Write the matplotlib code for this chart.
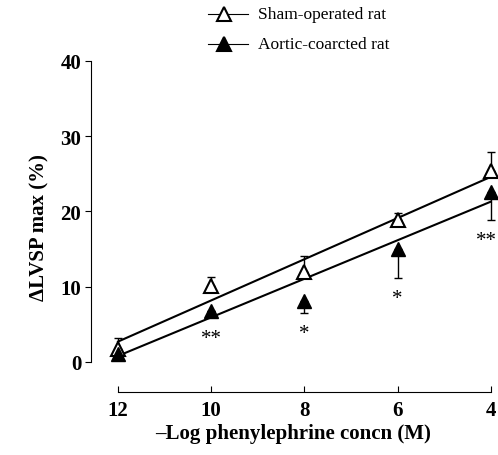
import numpy as np
import matplotlib.pyplot as plt
from matplotlib.lines import Line2D

plt.rcParams['font.family'] = ['Liberation Serif', 'DejaVu Serif']

conc = [12, 10, 8, 6, 4]
sham = [1.7, 10.1, 12.0, 18.9, 25.4]
sham_err = [1.5, 1.2, 2.1, 0.9, 2.5]
coarc = [1.0, 6.8, 8.1, 15.0, 22.6]
coarc_err = [0.0, 0.0, 1.6, 3.8, 3.7]
stars = ['', '**', '*', '*', '**']
star_x = [12, 10, 8, 6, 4.1]
star_y = [0, 3.1, 3.8, 8.4, 16.1]

# regression line endpoints (at 12 and 4)
fit_x = [12, 4]
sham_fit = [2.7, 24.6]
coarc_fit = [0.8, 21.3]

fig = plt.figure(figsize=(4.98, 4.56), dpi=100)
ax = fig.add_axes([91 / 498, 1 - 393 / 456, 404 / 498, 331 / 456])

ax.plot(fit_x, sham_fit, color='black', lw=1.5, clip_on=False)
ax.plot(fit_x, coarc_fit, color='black', lw=1.5, clip_on=False)

ax.errorbar(conc, sham, yerr=[np.zeros(5), sham_err], fmt='none', ecolor='black',
            elinewidth=1, capsize=3, clip_on=False)
ax.errorbar(conc, coarc, yerr=[coarc_err, np.zeros(5)], fmt='none', ecolor='black',
            elinewidth=1, capsize=3, clip_on=False)
ax.plot(conc, sham, '^', ms=10, mfc='white', mec='black', mew=1.5, ls='none', clip_on=False)
ax.plot(conc, coarc, '^', ms=10, mfc='black', mec='black', ls='none', clip_on=False)

for x, s, y in zip(star_x, stars, star_y):
    if s:
        ax.text(x, y, s, ha='center', va='center', fontsize=15)

ax.set_xlim(12.58, 3.91)
ax.set_ylim(-4, 40)
ax.set_xticks(conc)
ax.set_yticks([0, 10, 20, 30, 40])
ax.spines['top'].set_visible(False)
ax.spines['right'].set_visible(False)
ax.spines['left'].set_bounds(0, 40)
ax.spines['bottom'].set_bounds(12, 4)
ax.tick_params(axis='y', direction='out', length=4, labelsize=15, pad=3)
ax.tick_params(axis='x', direction='in', length=4, labelsize=15, pad=6)
for lab in ax.get_xticklabels() + ax.get_yticklabels():
    lab.set_fontweight('bold')

ax.set_xlabel('–Log phenylephrine concn (M)', fontsize=15, fontweight='bold', labelpad=2)
ax.set_ylabel('ΔLVSP max (%)', fontsize=15, fontweight='bold', labelpad=8)

# legend drawn by hand at the top
for yy, fc, label in [(15, 'white', 'Sham-operated rat'), (45, 'black', 'Aortic-coarcted rat')]:
    fy = 1 - yy / 456
    fig.add_artist(Line2D([208 / 498, 248 / 498], [fy, fy], color='black', lw=0.8,
                          transform=fig.transFigure))
    fig.add_artist(Line2D([224 / 498], [fy], marker='^', ms=10, mfc=fc, mec='black',
                          mew=1.5, transform=fig.transFigure))
    fig.text(258 / 498, fy, label, fontsize=12.5, va='center', ha='left')

fig.savefig('out.png', dpi=100)
